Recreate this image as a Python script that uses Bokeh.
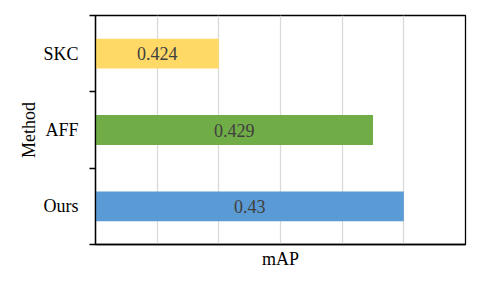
from bokeh.plotting import figure
from bokeh.models import ColumnDataSource, FixedTicker, Range1d
from bokeh.core.properties import value
from bokeh.embed import file_html
from bokeh.resources import INLINE

# ---- data ----
methods = ["Ours", "AFF", "SKC"]
map_values = [0.43, 0.429, 0.424]
value_labels = ["0.43", "0.429", "0.424"]
bar_colors = ["#5B9BD5", "#70AD47", "#FFD966"]
x_start = 0.42
x_end = 0.432
x_grid = [0.42, 0.422, 0.424, 0.426, 0.428, 0.43, 0.432]

FONT = "Liberation Serif"

ypos = [i + 0.5 for i in range(len(methods))]
boundaries = [float(i) for i in range(len(methods) + 1)]
label_x = [(x_start + v) / 2 for v in map_values]

src = ColumnDataSource(dict(y=ypos, right=map_values, color=bar_colors,
                            lx=label_x, txt=value_labels))

p = figure(width=480, height=285, output_backend="svg", toolbar_location=None,
           x_range=Range1d(x_start, x_end), y_range=Range1d(0, len(methods)),
           min_border_left=95, min_border_right=15, min_border_top=15,
           min_border_bottom=41, background_fill_color="white",
           border_fill_color="white")

p.hbar(y="y", left=x_start, right="right", height=0.39, color="color",
       line_color=None, source=src)
p.text(x="lx", y="y", text="txt", source=src, text_align="center",
       text_baseline="middle", text_font=value(FONT), text_font_size="18px",
       text_color="#404040")

# outline
p.outline_line_color = "black"
p.outline_line_width = 1.3

# grids
p.ygrid.visible = False
p.xgrid.ticker = FixedTicker(ticks=x_grid)
p.xgrid.grid_line_color = "#D9D9D9"
p.xgrid.grid_line_width = 1.3

# x axis (no tick labels)
p.xaxis.ticker = FixedTicker(ticks=[])
p.xaxis.major_tick_line_color = None
p.xaxis.minor_tick_line_color = None
p.xaxis.major_label_standoff = 0
p.xaxis.axis_line_color = "black"
p.xaxis.axis_line_width = 1.3
p.xaxis.axis_label = "mAP"
p.xaxis.axis_label_text_font = FONT
p.xaxis.axis_label_text_font_size = "18px"
p.xaxis.axis_label_text_font_style = "normal"
p.xaxis.axis_label_text_color = "black"
p.xaxis.axis_label_standoff = 4

# y axis
p.yaxis.ticker = FixedTicker(ticks=ypos, minor_ticks=boundaries)
p.yaxis.major_label_overrides = {y: m for y, m in zip(ypos, methods)}
p.yaxis.major_tick_line_color = None
p.yaxis.minor_tick_line_color = "black"
p.yaxis.minor_tick_line_width = 1.3
p.yaxis.minor_tick_out = 6
p.yaxis.minor_tick_in = 0
p.yaxis.major_tick_out = 0
p.yaxis.major_tick_in = 0
p.yaxis.major_label_standoff = 11
p.yaxis.major_label_text_font = FONT
p.yaxis.major_label_text_font_size = "18px"
p.yaxis.major_label_text_color = "black"
p.yaxis.axis_line_color = "black"
p.yaxis.axis_line_width = 1.3
p.yaxis.axis_label = "Method"
p.yaxis.axis_label_text_font = FONT
p.yaxis.axis_label_text_font_size = "18px"
p.yaxis.axis_label_text_font_style = "normal"
p.yaxis.axis_label_text_color = "black"
p.yaxis.axis_label_standoff = 1

open("out.html", "w").write(file_html(p, INLINE))
